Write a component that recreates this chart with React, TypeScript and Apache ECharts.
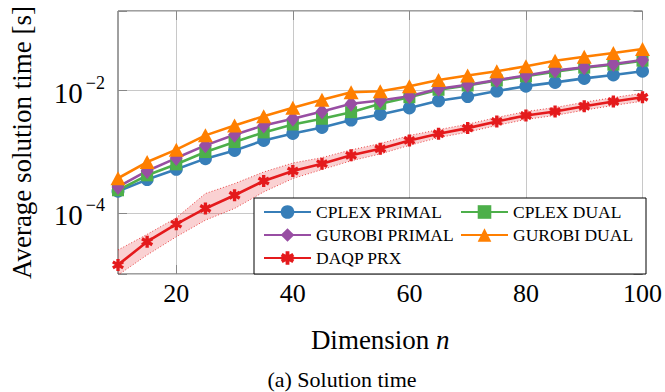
import React, { useEffect, useRef } from 'react';
import * as echarts from 'echarts';

const dims = [10, 15, 20, 25, 30, 35, 40, 45, 50, 55, 60, 65, 70, 75, 80, 85, 90, 95, 100];
const cplexPrimal = [2.26e-4, 3.5e-4, 5.15e-4, 7.7e-4, 1.05e-3, 1.53e-3, 1.99e-3, 2.49e-3, 3.3e-3, 4.06e-3, 5.19e-3, 6.79e-3, 7.98e-3, 9.82e-3, 1.18e-2, 1.36e-2, 1.58e-2, 1.8e-2, 2.07e-2];
const cplexDual = [2.34e-4, 4.11e-4, 6.22e-4, 9.87e-4, 1.44e-3, 2.07e-3, 2.79e-3, 3.46e-3, 4.43e-3, 6.07e-3, 7.78e-3, 1.03e-2, 1.21e-2, 1.46e-2, 1.71e-2, 2.04e-2, 2.37e-2, 2.65e-2, 3.08e-2];
const gurobiPrimal = [2.65e-4, 4.84e-4, 7.87e-4, 1.27e-3, 1.9e-3, 2.69e-3, 3.46e-3, 4.55e-3, 6.07e-3, 6.87e-3, 8.07e-3, 1.07e-2, 1.24e-2, 1.49e-2, 1.76e-2, 2.12e-2, 2.4e-2, 2.72e-2, 3.16e-2];
const gurobiDual = [3.68e-4, 6.78e-4, 1.08e-3, 1.85e-3, 2.69e-3, 3.81e-3, 5.23e-3, 7.05e-3, 9.38e-3, 9.75e-3, 1.175e-2, 1.49e-2, 1.76e-2, 2.07e-2, 2.49e-2, 3.08e-2, 3.58e-2, 4.11e-2, 4.79e-2];
const daqpPrx = [1.41e-5, 3.37e-5, 6.54e-5, 1.18e-4, 1.94e-4, 3.32e-4, 4.84e-4, 6.38e-4, 8.72e-4, 1.12e-3, 1.53e-3, 1.97e-3, 2.43e-3, 3.13e-3, 3.91e-3, 4.55e-3, 5.55e-3, 6.62e-3, 7.78e-3];
const daqpLower = [9.6e-6, 2.05e-5, 4.06e-5, 7.6e-5, 1.18e-4, 2.2e-4, 3.64e-4, 5.1e-4, 7.1e-4, 9.2e-4, 1.27e-3, 1.7e-3, 2.09e-3, 2.69e-3, 3.37e-3, 3.92e-3, 4.78e-3, 5.7e-3, 6.7e-3];
const daqpUpper = [2.47e-5, 4.45e-5, 8.29e-5, 2.07e-4, 3.01e-4, 4.66e-4, 6.53e-4, 8.0e-4, 1.07e-3, 1.36e-3, 1.84e-3, 2.29e-3, 2.82e-3, 3.63e-3, 4.54e-3, 5.28e-3, 6.44e-3, 7.68e-3, 9.03e-3];
const xTicks = [20, 40, 60, 80, 100];
const legendLeft = ['CPLEX PRIMAL', 'GUROBI PRIMAL', 'DAQP PRX'];
const legendRight = ['CPLEX DUAL', 'GUROBI DUAL'];

const FONT = 'Liberation Serif';
const STAR = 'path://M-1.4,-5L1.4,-5L1.4,5L-1.4,5Z M3.63,-3.712L5.03,-1.288L-3.63,3.712L-5.03,1.288Z M5.03,1.288L3.63,3.712L-5.03,-1.288L-3.63,-3.712Z';

const pairs = (vals: number[]) => dims.map((d, i) => [d, vals[i]]);

export default function App() {
  const ref = useRef<HTMLDivElement>(null);
  useEffect(() => {
    if (!ref.current) return;
    const chart = echarts.init(ref.current, null, { renderer: 'svg' });
    const lineSeries = (name: string, vals: number[], color: string, symbol: string, size: any) => ({
      name,
      type: 'line',
      data: pairs(vals),
      symbol,
      symbolSize: size,
      showSymbol: true,
      lineStyle: { color, width: 2.6 },
      itemStyle: { color },
      emphasis: { disabled: true },
    });
    const bandEdge = { stroke: '#e41a1c', lineWidth: 1, lineDash: [1, 2], fill: null, opacity: 0.8 };
    const tickStyle = { color: '#888', width: 1 };
    const yCommon = { type: 'log', logBase: 100, min: 1e-5, max: 0.2 };
    const legendText = { fontFamily: FONT, fontSize: 17.5, color: '#000' };
    const option: any = {
      animation: false,
      grid: { left: 116, right: 19, top: 11, bottom: 118, show: true, borderColor: '#404040', borderWidth: 1, backgroundColor: 'transparent' },
      xAxis: [
        {
          type: 'value', min: 10, max: 100,
          name: '{a|Dimension }{i|n}', nameLocation: 'middle', nameGap: 52,
          nameTextStyle: { rich: { a: { fontFamily: FONT, fontSize: 27, color: '#000' }, i: { fontFamily: FONT, fontSize: 27, fontStyle: 'italic', color: '#000' } } },
          axisLine: { show: false },
          axisTick: { inside: true, length: 9, lineStyle: tickStyle, customValues: xTicks },
          axisLabel: { customValues: xTicks, fontFamily: FONT, fontSize: 26, color: '#000', margin: 6 },
          splitLine: { show: true, lineStyle: { color: '#c8c8c8', width: 1 } },
        },
        {
          type: 'value', min: 10, max: 100, position: 'top',
          axisLine: { show: false },
          axisTick: { inside: true, length: 9, lineStyle: tickStyle, customValues: xTicks },
          axisLabel: { show: false, customValues: xTicks },
          splitLine: { show: false },
        },
      ],
      yAxis: [
        {
          ...yCommon,
          name: 'Average solution time [s]', nameLocation: 'middle', nameGap: 83,
          nameTextStyle: { fontFamily: FONT, fontSize: 27, color: '#000' },
          axisLine: { show: false },
          axisTick: { inside: true, length: 9, lineStyle: tickStyle },
          axisLabel: {
            margin: 13,
            formatter: (v: number) => {
              const e = Math.log10(v);
              const r = Math.round(e);
              if (Math.abs(e - r) > 1e-6 || r % 2 !== 0) return '';
              return `{b|10}{s|${r < 0 ? '\u2212' : ''}${Math.abs(r)}}`;
            },
            rich: {
              b: { fontFamily: FONT, fontSize: 29, color: '#000', lineHeight: 34, verticalAlign: 'bottom' },
              s: { fontFamily: FONT, fontSize: 18, color: '#000', lineHeight: 22, verticalAlign: 'top', padding: [0, 0, 0, 3] },
            },
          },
          splitLine: { show: true, lineStyle: { color: '#c8c8c8', width: 1 } },
        },
        {
          ...yCommon, position: 'right',
          axisLine: { show: false },
          axisTick: { inside: true, length: 9, lineStyle: tickStyle },
          axisLabel: { show: false },
          splitLine: { show: false },
        },
      ],
      legend: [
        {
          data: legendLeft, orient: 'vertical', left: 263, top: 203, padding: 0,
          itemWidth: 47, itemHeight: 17, itemGap: 5, z: 20,
          textStyle: legendText,
        },
        {
          data: legendRight, orient: 'vertical', left: 460, top: 203, padding: 0,
          itemWidth: 47, itemHeight: 17, itemGap: 5, z: 20,
          textStyle: legendText,
        },
      ],
      graphic: [
        { type: 'rect', z: 10, shape: { x: 254, y: 198, width: 392, height: 76 }, style: { fill: '#fff', stroke: '#000', lineWidth: 1 } },
        { type: 'text', z: 10, x: 342, y: 379, style: { text: '(a) Solution time', fontFamily: FONT, fontSize: 22, fill: '#000', textAlign: 'center', textVerticalAlign: 'middle' } },
      ],
      series: [
        lineSeries('CPLEX PRIMAL', cplexPrimal, '#377eb8', 'circle', 13),
        lineSeries('CPLEX DUAL', cplexDual, '#4daf4a', 'rect', 12),
        lineSeries('GUROBI PRIMAL', gurobiPrimal, '#984ea3', 'diamond', [13, 16]),
        lineSeries('GUROBI DUAL', gurobiDual, '#ff7f00', 'triangle', [15, 14]),
        {
          name: 'DAQP band', type: 'custom', clip: true, silent: true,
          data: dims.map((d, i) => [d, daqpLower[i], daqpUpper[i]]),
          encode: { x: 0, y: [1, 2] },
          renderItem: (params: any, api: any) => {
            if (params.dataIndex !== 0) return null;
            const up = dims.map((d, i) => api.coord([d, daqpUpper[i]]));
            const lo = dims.map((d, i) => api.coord([d, daqpLower[i]]));
            return {
              type: 'group',
              children: [
                { type: 'polygon', shape: { points: up.concat(lo.slice().reverse()) }, style: { fill: 'rgba(228,26,28,0.2)' } },
                { type: 'polyline', shape: { points: up }, style: bandEdge },
                { type: 'polyline', shape: { points: lo }, style: bandEdge },
              ],
            };
          },
        },
        lineSeries('DAQP PRX', daqpPrx, '#e41a1c', STAR, 12),
      ],
    };
    chart.setOption(option);
    return () => chart.dispose();
  }, []);
  return <div ref={ref} style={{ width: 665, height: 392, position: 'absolute', left: 0, top: 0 }} />;
}
